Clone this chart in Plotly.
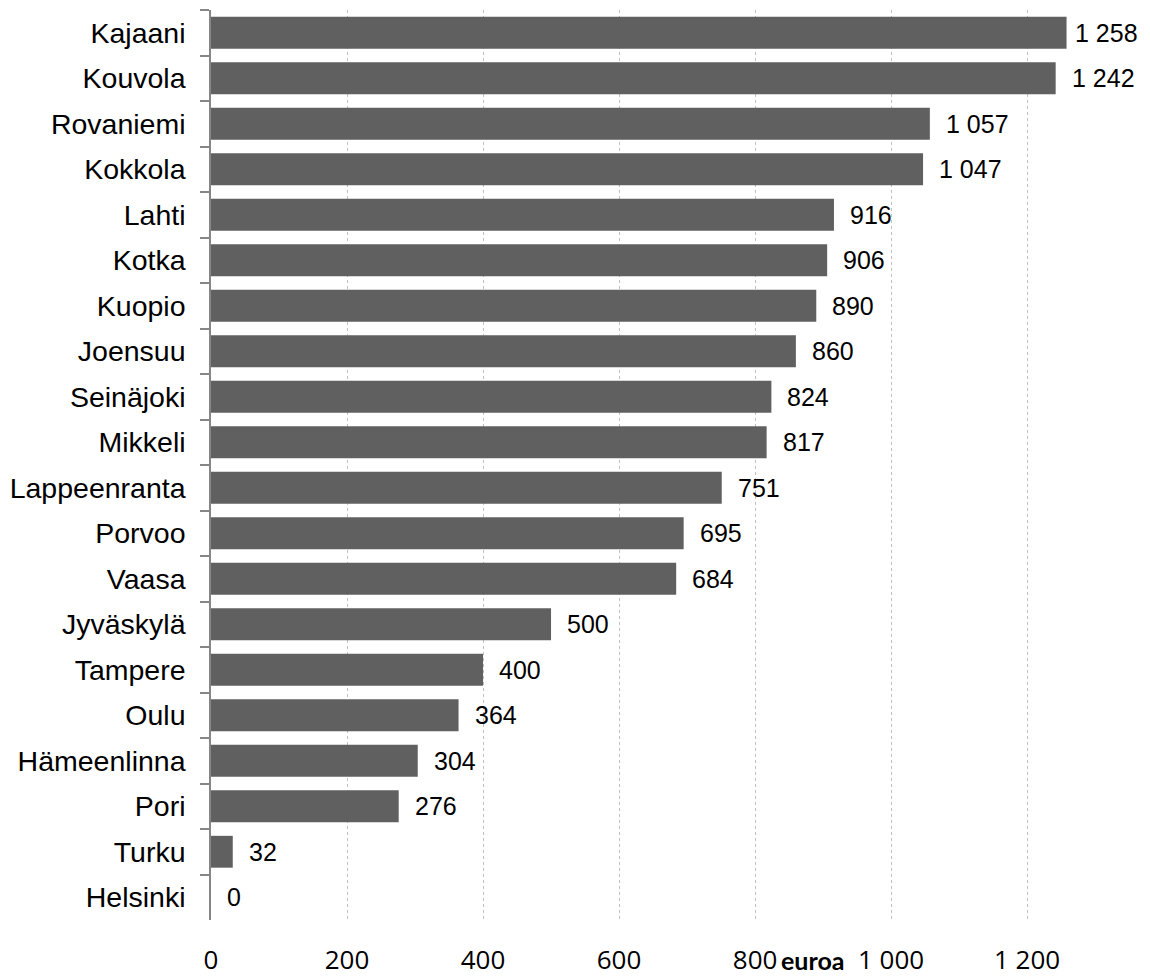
import plotly.graph_objects as go

# Cities and values (euroa), top to bottom as in the chart
cities = ["Kajaani", "Kouvola", "Rovaniemi", "Kokkola", "Lahti", "Kotka", "Kuopio",
          "Joensuu", "Seinäjoki", "Mikkeli", "Lappeenranta", "Porvoo", "Vaasa",
          "Jyväskylä", "Tampere", "Oulu", "Hämeenlinna", "Pori", "Turku", "Helsinki"]
values = [1258, 1242, 1057, 1047, 916, 906, 890, 860, 824, 817, 751, 695, 684,
          500, 400, 364, 304, 276, 32, 0]
x_ticks = [0, 200, 400, 600, 800, 1000, 1200]
x_ticklabels = ["0", "200", "400", "600", "800", "1 000", "1 200"]

bar_color = "#606060"
label_font = "Liberation Sans, Arial, sans-serif"
x_max = 1366

fig = go.Figure()
fig.add_trace(go.Bar(
    x=values,
    y=cities,
    orientation="h",
    marker=dict(color=bar_color, line=dict(width=0)),
    hoverinfo="x+y",
))

# value labels next to each bar (pushed back inside the plot area if they would overflow, like Excel)
for c, v in zip(cities, values):
    txt = f"{v:,}".replace(",", " ")
    if v > x_max - 120:
        fig.add_annotation(x=1, y=c, xref="paper", yref="y", text=txt,
                           showarrow=False, xanchor="right", yanchor="middle",
                           font=dict(family=label_font, size=25, color="#000000"))
    else:
        fig.add_annotation(x=v, y=c, xref="x", yref="y", text=txt,
                           showarrow=False, xanchor="left", yanchor="middle", xshift=14,
                           font=dict(family=label_font, size=25, color="#000000"))

# unit label on the value axis
fig.add_annotation(
    x=884, y=0, xref="x", yref="paper",
    text="<b>euroa</b>", showarrow=False,
    xanchor="center", yanchor="middle", yshift=-40,
    font=dict(family="Lato, sans-serif", size=25, color="#000000"),
)

# the page body has an 8px margin, so the figure is sized to fill the rest of the window
fig.update_layout(
    width=1142, height=968,
    margin=dict(l=203, r=10, t=2, b=56),
    plot_bgcolor="white", paper_bgcolor="white",
    bargap=0.3,
    showlegend=False,
    xaxis=dict(
        range=[0, x_max],
        tickvals=x_ticks, ticktext=x_ticklabels,
        showgrid=True, gridcolor="#c0c0c0", griddash="dot", gridwidth=1,
        zeroline=False, showline=False, ticks="",
        automargin=False,
        ticklabelstandoff=22,
        tickfont=dict(family="Open Sans, sans-serif", size=26, color="#000000"),
    ),
    yaxis=dict(
        type="category",
        range=[len(cities) - 0.5, -0.5],
        showline=True, linecolor="#868686", linewidth=1.5,
        ticks="outside", ticklen=9, tickcolor="#868686", tickwidth=1.5,
        tickson="boundaries",
        showgrid=False, zeroline=False,
        automargin=False,
        ticklabelstandoff=18,
        tickfont=dict(family=label_font, size=28.5, color="#000000"),
    ),
)

fig.write_html("out.html")
